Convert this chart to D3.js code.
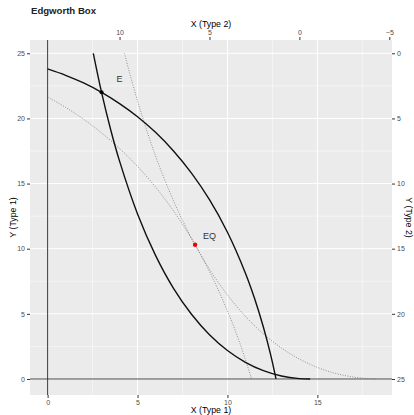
<!DOCTYPE html>
<html>
<head>
<meta charset="utf-8">
<script src="https://cdn.jsdelivr.net/npm/d3@7"></script>
<style>
  body { margin: 0; background: #fff; }
  svg { font-family: "Liberation Sans", Arial, sans-serif; }
</style>
</head>
<body>
<div id="chart"></div>
<script>
// box size (type 2 axes are measured from the opposite corner)
const boxX = 14;
const boxY = 25;

// points, [x, y] in type 1 coordinates
const icType1E = [[2.54, 25], [3, 22], [3.5, 19.17], [4, 16.72], [5, 12.67], [6, 9.49], [7, 6.96], [8, 4.97],
  [9, 3.4], [10, 2.19], [11, 1.28], [12, 0.64], [13, 0.23], [14, 0.03], [14.6, 0]];
const icType2E = [[0, 23.8], [1, 23.31], [2, 22.72], [3, 22], [4, 21.14], [5, 20.13], [6, 18.93], [7, 17.5],
  [8, 15.8], [9, 13.76], [10, 11.26], [11, 8.12], [11.5, 6.21], [12, 3.97], [12.4, 1.87], [12.7, 0]];
const icType1EQ = [[4.27, 25], [5, 21.33], [6, 17.13], [7, 13.68], [8, 10.81], [9, 8.43], [10, 6.45], [11, 4.81],
  [12, 3.46], [13, 2.38], [14, 1.53], [15, 0.89], [16, 0.43], [17, 0.15], [18, 0.01], [18.3, 0]];
const icType2EQ = [[0, 21.64], [1, 20.85], [2, 19.94], [3, 18.89], [4, 17.69], [5, 16.32], [6, 14.73], [7, 12.9],
  [8, 10.77], [9, 8.25], [10, 5.23], [10.5, 3.47], [11, 1.49], [11.34, 0]];

const endowment = { x: 3, y: 22, label: 'E' };
const equilibrium = { x: 8.2, y: 10.3, label: 'EQ' };

// tick values
const xTicks1 = [0, 5, 10, 15];
const yTicks1 = [0, 5, 10, 15, 20, 25];
const xTicks2 = [10, 5, 0, -5];
const yTicks2 = [0, 5, 10, 15, 20, 25];
const xMinor = [2.5, 7.5, 12.5, 17.5];
const yMinor = [2.5, 7.5, 12.5, 17.5, 22.5];

const width = 414;
const height = 415;
const panel = { left: 30, right: 392, top: 40, bottom: 395 };

const svg = d3.select('#chart')
  .append('svg')
  .attr('width', width)
  .attr('height', height);

// scales
const x = d3.scaleLinear().domain([-0.98, 19.15]).range([panel.left, panel.right]);
const y = d3.scaleLinear().domain([-1.23, 26.02]).range([panel.bottom, panel.top]);
const x2 = d3.scaleLinear().domain([boxX + 0.98, boxX - 19.15]).range([panel.left, panel.right]);
const y2 = d3.scaleLinear().domain([boxY + 1.23, boxY - 26.02]).range([panel.bottom, panel.top]);

// panel background + grid
svg.append('rect')
  .attr('x', panel.left).attr('y', panel.top)
  .attr('width', panel.right - panel.left).attr('height', panel.bottom - panel.top)
  .attr('fill', '#ebebeb');

const grid = svg.append('g').attr('stroke', '#fff');
grid.selectAll('.vmin').data(xMinor).join('line')
  .attr('x1', d => x(d)).attr('x2', d => x(d)).attr('y1', panel.top).attr('y2', panel.bottom)
  .attr('stroke-width', 0.5);
grid.selectAll('.hmin').data(yMinor).join('line')
  .attr('y1', d => y(d)).attr('y2', d => y(d)).attr('x1', panel.left).attr('x2', panel.right)
  .attr('stroke-width', 0.5);
grid.selectAll('.vmaj').data(xTicks1).join('line')
  .attr('x1', d => x(d)).attr('x2', d => x(d)).attr('y1', panel.top).attr('y2', panel.bottom)
  .attr('stroke-width', 1);
grid.selectAll('.hmaj').data(yTicks1).join('line')
  .attr('y1', d => y(d)).attr('y2', d => y(d)).attr('x1', panel.left).attr('x2', panel.right)
  .attr('stroke-width', 1);

// origin lines
svg.append('line')
  .attr('x1', x(0)).attr('x2', x(0)).attr('y1', panel.top).attr('y2', panel.bottom)
  .attr('stroke', '#222').attr('stroke-width', 0.9);
svg.append('line')
  .attr('x1', panel.left).attr('x2', panel.right).attr('y1', y(0)).attr('y2', y(0))
  .attr('stroke', '#333').attr('stroke-width', 0.9);

// indifference curves
const line = d3.line().x(d => x(d[0])).y(d => y(d[1])).curve(d3.curveCatmullRom);

[icType1EQ, icType2EQ].forEach(pts => {
  svg.append('path').attr('d', line(pts))
    .attr('fill', 'none').attr('stroke', '#777').attr('stroke-width', 0.8)
    .attr('stroke-dasharray', '1,1.5');
});
[icType1E, icType2E].forEach(pts => {
  svg.append('path').attr('d', line(pts))
    .attr('fill', 'none').attr('stroke', '#111').attr('stroke-width', 1.4);
});

// points and labels
svg.append('circle').attr('cx', x(endowment.x)).attr('cy', y(endowment.y)).attr('r', 2).attr('fill', '#000');
svg.append('circle').attr('cx', x(equilibrium.x)).attr('cy', y(equilibrium.y)).attr('r', 2.2).attr('fill', '#e00');
svg.append('text').attr('x', x(endowment.x + 1)).attr('y', y(endowment.y + 1)).attr('dy', '0.35em')
  .attr('text-anchor', 'middle').attr('font-size', 9).attr('fill', '#333').text(endowment.label);
svg.append('text').attr('x', x(equilibrium.x + 0.8)).attr('y', y(equilibrium.y + 0.7)).attr('dy', '0.35em')
  .attr('text-anchor', 'middle').attr('font-size', 9).attr('fill', '#333').text(equilibrium.label);

// axes
function styleAxis(g) {
  g.select('.domain').remove();
  g.selectAll('.tick line').attr('stroke', '#333');
  g.selectAll('.tick text').attr('fill', '#4d4d4d').attr('font-size', 7);
}

svg.append('g').attr('transform', `translate(0,${panel.bottom})`)
  .call(d3.axisBottom(x).tickValues(xTicks1).tickSize(3).tickPadding(2))
  .call(styleAxis);
svg.append('g').attr('transform', `translate(${panel.left},0)`)
  .call(d3.axisLeft(y).tickValues(yTicks1).tickSize(3).tickPadding(2))
  .call(styleAxis);
svg.append('g').attr('transform', `translate(0,${panel.top})`)
  .call(d3.axisTop(x2).tickValues(xTicks2).tickSize(3).tickPadding(2))
  .call(styleAxis);
svg.append('g').attr('transform', `translate(${panel.right},0)`)
  .call(d3.axisRight(y2).tickValues(yTicks2).tickSize(3).tickPadding(2))
  .call(styleAxis);

// titles
const cx = (panel.left + panel.right) / 2;
const cy = (panel.top + panel.bottom) / 2;
svg.append('text').attr('x', 31).attr('y', 14).attr('font-size', 9.6).attr('font-weight', 'bold')
  .attr('fill', '#222').text('Edgworth Box');
svg.append('text').attr('x', cx).attr('y', 27).attr('text-anchor', 'middle').attr('font-size', 8.8).attr('fill', '#000').text('X (Type 2)');
svg.append('text').attr('x', cx).attr('y', 413).attr('text-anchor', 'middle').attr('font-size', 8.8).attr('fill', '#000').text('X (Type 1)');
svg.append('text').attr('transform', `translate(16,${cy}) rotate(-90)`).attr('text-anchor', 'middle')
  .attr('font-size', 8.8).attr('fill', '#000').text('Y (Type 1)');
svg.append('text').attr('transform', `translate(405.5,${cy}) rotate(90)`).attr('text-anchor', 'middle')
  .attr('font-size', 8.8).attr('fill', '#000').text('Y (Type 2)');
</script>
</body>
</html>
